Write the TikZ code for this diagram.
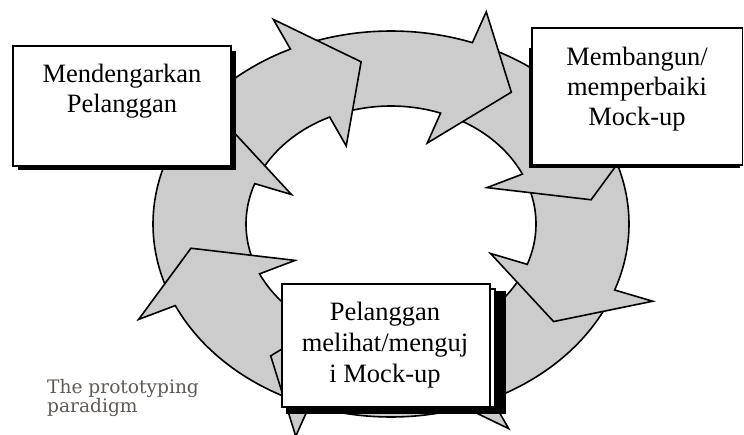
\documentclass[tikz,border=0pt]{standalone}
\usepackage{fontspec}
\setmainfont{Liberation Serif}
\newfontfamily\capfont{DejaVu Serif}
\definecolor{ringgray}{RGB}{204,204,204}
\definecolor{capgray}{RGB}{95,90,85}
\begin{document}
\begin{tikzpicture}[x=1pt,y=-1pt,
  ringarrow/.style={fill=ringgray, draw=black, line width=1.6pt, line join=miter},
  box/.style={draw=black, fill=white, line width=1.8pt, rectangle, inner sep=0pt, outer sep=0pt, anchor=north west},
  shadowbox/.style={fill=black, draw=none, rectangle, inner sep=0pt, outer sep=0pt, anchor=north west},
  lbl/.style={font=\fontsize{26.5}{30}\selectfont, anchor=base, inner sep=0pt},
  captxt/.style={font=\capfont\fontsize{18.6}{19}\selectfont, text=capgray, anchor=base west, inner sep=0pt}]
\useasboundingbox (0,0) rectangle (744,434);

% ring of eight curved arrows
\foreach \t in {425,380,335,290,245,200,155,110}{
  \pgfmathsetmacro\s{\t-42}
  \pgfmathsetmacro\tp{\t+16.5}
  \filldraw[ringarrow] plot[domain=\s:\t, samples=40] ({391+238*cos(\x)},{224+193*sin(\x)})
    -- ({391+278.5*cos(\t)},{224+225.8*sin(\t)})
    -- ({391+202.3*cos(\tp)},{224+164*sin(\tp)})
    -- ({391+105.9*cos(\t)},{224+86.1*sin(\t)})
    -- plot[domain=\t:\s, samples=40] ({391+145*cos(\x)},{224+118*sin(\x)})
    -- cycle;
}

% left box
\node[shadowbox, minimum width=218pt, minimum height=119pt] (lshadow) at (18,51) {};
\node[box, minimum width=218pt, minimum height=120pt] (lbox) at (13,46) {};
\node[lbl] (l1) at (122,82) {Mendengarkan};
\node[lbl] (l2) at (122,112) {Pelanggan};

% right box
\node[shadowbox, minimum width=211pt, minimum height=120pt] (rshadow) at (529,48) {};
\node[box, minimum width=210.5pt, minimum height=137pt] (rbox) at (532,28) {};
\node[lbl] (r1) at (637,65) {Membangun/};
\node[lbl] (r2) at (637,95) {memperbaiki};
\node[lbl] (r3) at (637,125) {Mock-up};

% bottom box
\node[shadowbox, minimum width=220pt, minimum height=123pt] (bshadow) at (286,291) {};
\node[box, minimum width=210pt, minimum height=118pt] (bframe) at (285,289) {};
\node[box, minimum width=208pt, minimum height=123pt] (bbox) at (282,284) {};
\node[lbl] (b1) at (385,320) {Pelanggan};
\node[lbl] (b2) at (385,351) {melihat/menguj};
\node[lbl] (b3) at (385,382) {i Mock-up};

% caption
\node[captxt] (c1) at (47,393) {The prototyping};
\node[captxt] (c2) at (47,412) {paradigm};
\end{tikzpicture}
\end{document}
